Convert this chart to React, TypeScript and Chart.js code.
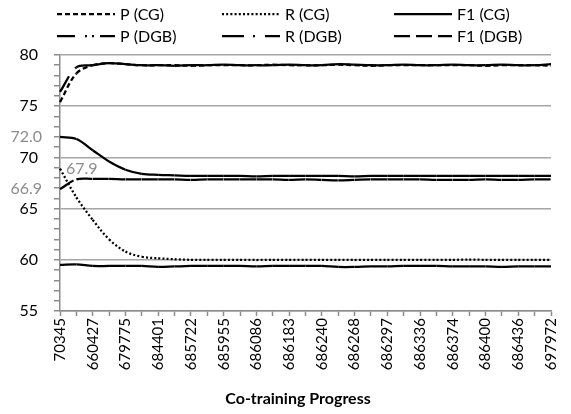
import React, { useEffect, useRef } from "react";
import { Chart, registerables } from "chart.js";

Chart.register(...registerables);

// Axis tick labels (every second checkpoint is labelled)
const tickLabels = [
  "70345", "660427", "679775", "684401", "685722", "685955", "686086", "686183",
  "686240", "686268", "686297", "686336", "686374", "686400", "686436", "697972",
];
const categories = Array.from({ length: 31 }, (_, i) => (i % 2 === 0 ? tickLabels[i / 2] : ""));

const pCG = [75.4, 78.2, 79.0, 79.2, 79.1, 79.0, 79.0, 79.0, 78.95, 79.0, 79.0, 79.0, 79.0, 79.05, 79.0, 79.0,
  79.0, 79.05, 79.0, 78.95, 79.0, 79.0, 79.0, 79.0, 79.0, 79.0, 78.95, 79.0, 79.0, 79.0, 78.95];
const rCG = [68.9, 66.1, 63.9, 62.0, 60.8, 60.3, 60.15, 60.05, 60.0, 60.0, 60.0, 60.0, 59.98, 60.0, 60.0, 60.0,
  60.0, 60.0, 59.98, 60.0, 60.0, 60.0, 60.0, 60.0, 60.0, 60.02, 60.0, 60.0, 60.0, 60.0, 60.0];
const f1CG = [72.0, 71.8, 70.7, 69.6, 68.8, 68.4, 68.3, 68.25, 68.2, 68.2, 68.2, 68.2, 68.15, 68.2, 68.2, 68.2,
  68.2, 68.2, 68.15, 68.2, 68.2, 68.2, 68.2, 68.2, 68.2, 68.2, 68.2, 68.2, 68.2, 68.2, 68.2];
const pDGB = [76.4, 78.8, 79.0, 79.2, 79.1, 79.0, 79.0, 78.95, 79.0, 79.0, 79.05, 79.0, 79.0, 79.0, 79.05, 79.0,
  79.0, 79.1, 79.05, 79.0, 79.0, 79.05, 79.0, 79.0, 79.05, 79.0, 79.0, 79.05, 79.0, 79.0, 79.1];
const rDGB = [59.5, 59.55, 59.4, 59.4, 59.4, 59.4, 59.3, 59.35, 59.4, 59.4, 59.4, 59.4, 59.35, 59.4, 59.4, 59.4,
  59.4, 59.3, 59.3, 59.35, 59.35, 59.4, 59.4, 59.4, 59.35, 59.35, 59.35, 59.3, 59.35, 59.35, 59.35];
const f1DGB = [66.9, 67.85, 67.9, 67.9, 67.85, 67.85, 67.85, 67.85, 67.8, 67.85, 67.85, 67.85, 67.85, 67.85, 67.8, 67.85,
  67.8, 67.75, 67.8, 67.85, 67.85, 67.85, 67.85, 67.8, 67.8, 67.8, 67.85, 67.8, 67.8, 67.85, 67.85];

const seriesLabels = ["P (CG)", "R (CG)", "F1 (CG)", "P (DGB)", "R (DGB)", "F1 (DGB)"];

// value annotations: [label, category index or null (left of axis), value]
const annotations: [string, number | null, number][] = [
  ["72.0", null, 72.0],
  ["66.9", null, 66.9],
  ["67.9", 0, 67.9],
];

const yTickValues = [55, 56, 57, 58, 59, 60, 61, 62, 63, 64, 65, 66, 67, 68, 69, 70, 71, 72, 73, 74, 75, 76, 77, 78, 79, 80];

const FONT = "Lato";

export default function App() {
  const ref = useRef<HTMLCanvasElement | null>(null);

  useEffect(() => {
    if (!ref.current) return;
    const dashes = [[5, 3], [2, 2.2], [], [18, 10, 2, 5, 2, 6], [22, 9, 2, 10], [16, 6]];
    const values = [pCG, rCG, f1CG, pDGB, rDGB, f1DGB];

    const legendPlugin = {
      id: "gridLegendAndText",
      afterDraw(chart: any) {
        const ctx = chart.ctx as CanvasRenderingContext2D;
        const cols = [57, 222, 394];
        const rows = [14, 36];
        ctx.save();
        chart.data.datasets.forEach((ds: any, i: number) => {
          const x0 = cols[i % 3];
          const y = rows[Math.floor(i / 3)];
          ctx.beginPath();
          ctx.setLineDash(ds.borderDash || []);
          ctx.lineWidth = 2.25;
          ctx.strokeStyle = "#000";
          ctx.moveTo(x0, y);
          ctx.lineTo(x0 + 58, y);
          ctx.stroke();
          ctx.setLineDash([]);
          ctx.font = `16px ${FONT}`;
          ctx.fillStyle = "#000";
          ctx.textBaseline = "middle";
          ctx.textAlign = "left";
          ctx.fillText(ds.label, x0 + 63, y + 1);
        });
        const xs = chart.scales.x;
        const ys = chart.scales.y;
        ctx.fillStyle = "#8c8c8c";
        ctx.font = `16px ${FONT}`;
        annotations.forEach(([t, idx, v]) => {
          if (idx === null) {
            ctx.textAlign = "right";
            ctx.fillText(t, 42, ys.getPixelForValue(v));
          } else {
            ctx.textAlign = "left";
            ctx.fillText(t, xs.getPixelForValue(idx) + 6, ys.getPixelForValue(v) - 10);
          }
        });
        ctx.fillStyle = "#000";
        ctx.font = `bold 16px ${FONT}`;
        ctx.textAlign = "center";
        ctx.fillText("Co-training Progress", 298, 399);
        ctx.restore();
      },
    };

    const chart = new Chart(ref.current, {
      type: "line",
      data: {
        labels: categories,
        datasets: values.map((d, i) => ({
          label: seriesLabels[i],
          data: d,
          borderColor: "#000",
          backgroundColor: "#000",
          borderWidth: 2.25,
          borderDash: dashes[i],
          pointRadius: 0,
          tension: 0.35,
          fill: false,
          segment: {
            borderDashOffset: (c: any) => (c.p0DataIndex % 2) * 0.001,
          },
        })),
      },
      options: {
        animation: false,
        responsive: false,
        devicePixelRatio: 1,
        layout: { padding: { top: 55, right: 8, left: 0, bottom: 0 } },
        plugins: { legend: { display: false }, tooltip: { enabled: false } },
        scales: {
          x: {
            type: "category",
            offset: false,
            afterFit: (s: any) => { s.height = 103; },
            grid: { color: "rgba(0,0,0,0)", tickColor: "#8c8c8c", tickLength: 5, tickWidth: 1.5 },
            border: { color: "#8c8c8c", width: 1.5 },
            ticks: {
              autoSkip: false,
              maxRotation: 90,
              minRotation: 90,
              padding: 2,
              color: "#000",
              font: { family: FONT, size: 15 },
            },
          },
          y: {
            min: 55,
            max: 80,
            afterFit: (s: any) => { s.width = 60; },
            afterBuildTicks: (s: any) => { s.ticks = yTickValues.map((v) => ({ value: v })); },
            grid: {
              color: (c: any) => (c.tick && c.tick.value % 5 === 0 ? "#a6a6a6" : "rgba(0,0,0,0)"),
              lineWidth: 1.5,
              tickColor: "#8c8c8c",
              tickLength: 6,
              tickWidth: 1.5,
            },
            border: { color: "#8c8c8c", width: 1.5 },
            ticks: {
              autoSkip: false,
              padding: 16,
              color: "#000",
              font: { family: FONT, size: 16 },
              callback: (v: any) => (Number(v) % 5 === 0 ? String(v) : ""),
            },
          },
        },
      },
      plugins: [legendPlugin],
    } as any);
    return () => chart.destroy();
  }, []);

  return (
    <div style={{ position: "fixed", left: 0, top: 0, width: 571, height: 414, background: "#fff" }}>
      <canvas ref={ref} width={571} height={414} style={{ display: "block", width: 571, height: 414 }} />
    </div>
  );
}
